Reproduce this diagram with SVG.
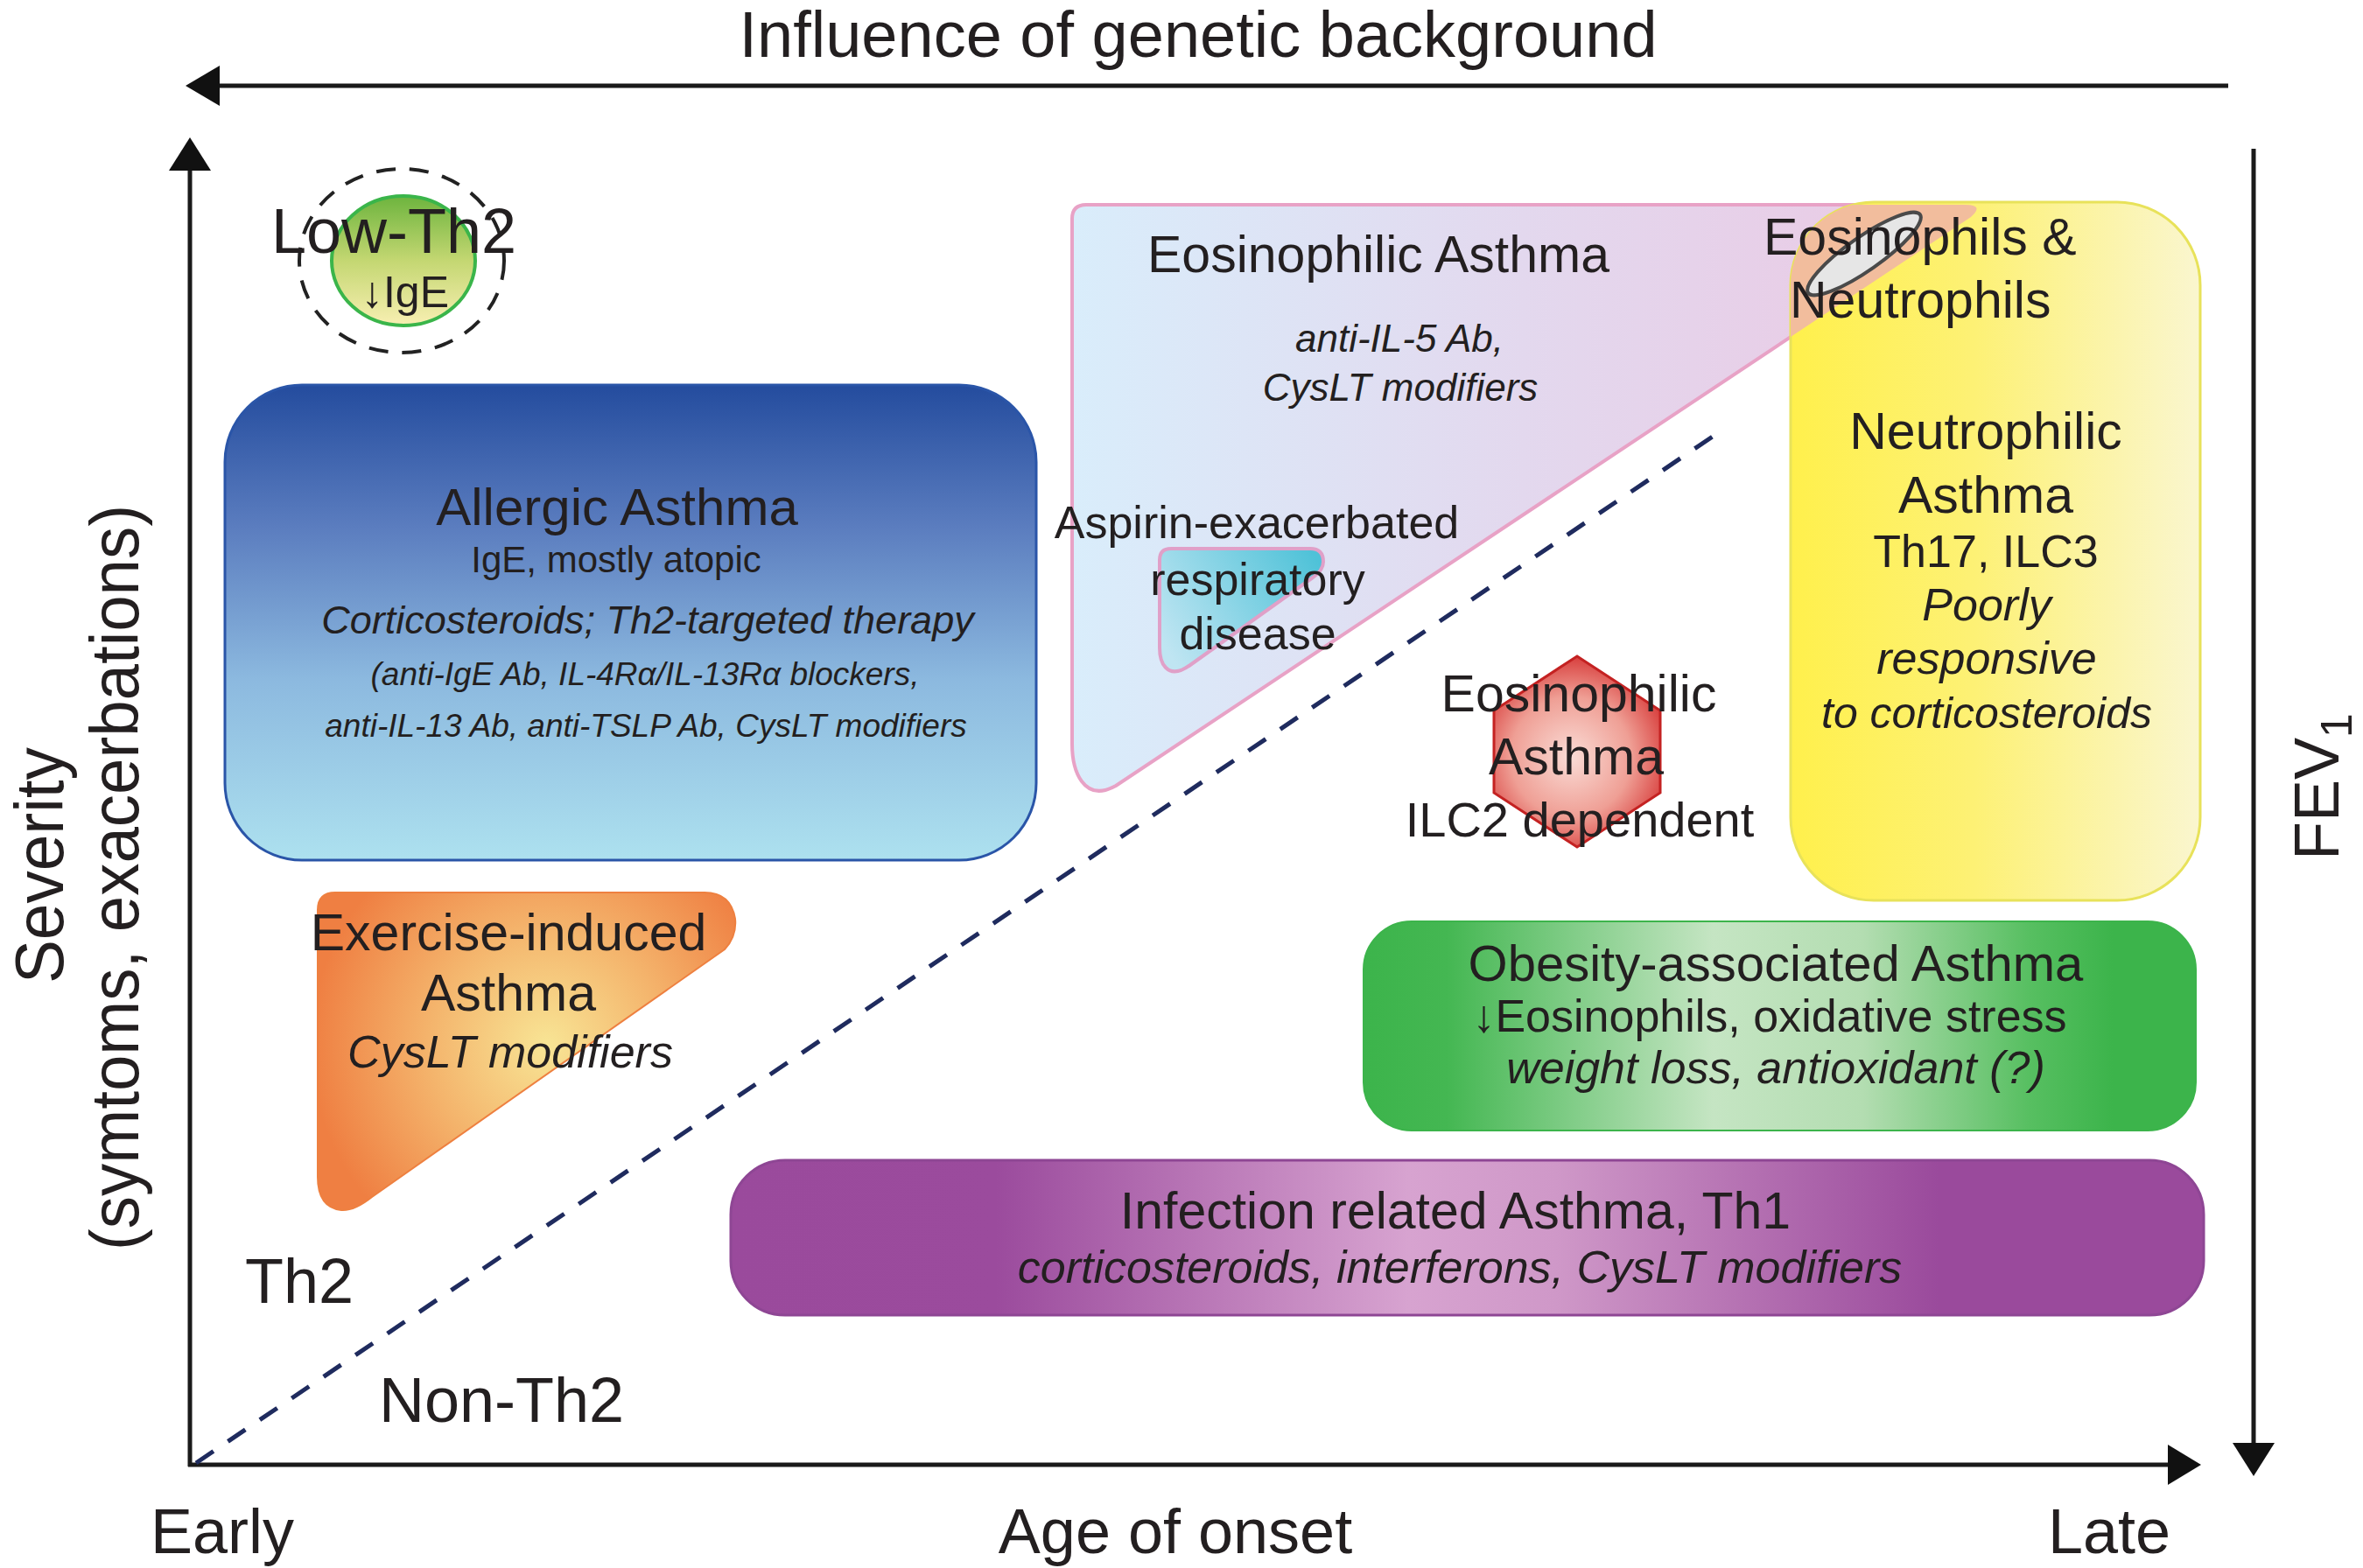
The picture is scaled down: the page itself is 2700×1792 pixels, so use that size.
<svg xmlns="http://www.w3.org/2000/svg" width="2700" height="1792" viewBox="0 0 2700 1792">
<style>
.t{font-family:"Liberation Sans",Arial,Helvetica,sans-serif;fill:#231f20;}
.i{font-style:italic;}
.m{text-anchor:middle;}
.ax{stroke:#1a1a1a;stroke-width:5;fill:none;}
.ah{fill:#111;stroke:none;}
</style>
<defs>
<linearGradient id="gLow" x1="0" y1="0" x2="0" y2="1">
<stop offset="0" stop-color="#6db43e"/><stop offset="0.5" stop-color="#c4d772"/><stop offset="1" stop-color="#f8efb2"/>
</linearGradient>
<linearGradient id="gAll" x1="0" y1="0" x2="0" y2="1">
<stop offset="0" stop-color="#244c9e"/><stop offset="0.3" stop-color="#5b7dbf"/><stop offset="0.62" stop-color="#8cb9df"/><stop offset="1" stop-color="#ade1ef"/>
</linearGradient>
<linearGradient id="gPink" gradientUnits="userSpaceOnUse" x1="1225" y1="0" x2="2258" y2="0">
<stop offset="0" stop-color="#d9edfb"/><stop offset="0.5" stop-color="#e3d8ee"/><stop offset="1" stop-color="#ebc8e3"/>
</linearGradient>
<linearGradient id="gCyan" gradientUnits="userSpaceOnUse" x1="1505" y1="640" x2="1335" y2="745">
<stop offset="0" stop-color="#4fc2d8"/><stop offset="1" stop-color="#bfe5f2"/>
</linearGradient>
<linearGradient id="gYel" gradientUnits="userSpaceOnUse" x1="2046" y1="0" x2="2514" y2="0">
<stop offset="0" stop-color="#fff04c"/><stop offset="0.45" stop-color="#fdf175"/><stop offset="1" stop-color="#faf6cf"/>
</linearGradient>
<radialGradient id="gHex" gradientUnits="userSpaceOnUse" cx="1795" cy="865" r="125">
<stop offset="0" stop-color="#fadcd6"/><stop offset="0.55" stop-color="#ef9f95"/><stop offset="1" stop-color="#d32a2a"/>
</radialGradient>
<linearGradient id="gGreen" gradientUnits="userSpaceOnUse" x1="1558" y1="0" x2="2509" y2="0">
<stop offset="0" stop-color="#3cb44b"/><stop offset="0.1" stop-color="#44b752"/><stop offset="0.42" stop-color="#c5e5c3"/><stop offset="0.6" stop-color="#b3ddb1"/><stop offset="0.8" stop-color="#57bf61"/><stop offset="0.9" stop-color="#3cb44b"/><stop offset="1" stop-color="#3cb44b"/>
</linearGradient>
<linearGradient id="gPur" gradientUnits="userSpaceOnUse" x1="835" y1="0" x2="2518" y2="0">
<stop offset="0" stop-color="#9a4a9c"/><stop offset="0.18" stop-color="#9b4b9d"/><stop offset="0.46" stop-color="#d7a3d0"/><stop offset="0.56" stop-color="#cf98c8"/><stop offset="0.82" stop-color="#9a4a9c"/><stop offset="1" stop-color="#9a4a9c"/>
</linearGradient>
<radialGradient id="gEx" gradientUnits="userSpaceOnUse" cx="625" cy="1195" r="270">
<stop offset="0" stop-color="#f8e595"/><stop offset="0.5" stop-color="#f4b46c"/><stop offset="1" stop-color="#ef7f42"/>
</radialGradient>
<clipPath id="yc"><rect x="2046" y="231" width="468" height="798" rx="95"/></clipPath>
</defs>

<g id="connectors">
<line class="ax" x1="251" y1="98" x2="2546" y2="98"/>
<polygon class="ah" points="212,98 251,75 251,121"/>
<line class="ax" x1="217" y1="195" x2="217" y2="1676"/>
<polygon class="ah" points="217,157 193,195 241,195"/>
<line class="ax" x1="215" y1="1674" x2="2478" y2="1674"/>
<polygon class="ah" points="2515,1674 2477,1651 2477,1697"/>
<line class="ax" x1="2575" y1="170" x2="2575" y2="1650"/>
<polygon class="ah" points="2575,1687 2551,1649 2599,1649"/>
<line x1="224" y1="1672" x2="1970" y2="490" stroke="#1f2b5e" stroke-width="5" stroke-dasharray="24 20"/>
</g>

<g id="low-th2">
<ellipse cx="459" cy="298" rx="117" ry="105" fill="none" stroke="#222" stroke-width="4" stroke-dasharray="22 16"/>
<ellipse cx="461" cy="298" rx="82" ry="74" fill="url(#gLow)" stroke="#3ab54a" stroke-width="4"/>
<text class="t m" x="450" y="289" font-size="72">Low-Th2</text>
<text class="t m" x="463" y="351" font-size="50">↓IgE</text>
</g>

<g id="allergic">
<rect x="257" y="440" width="927" height="543" rx="88" fill="url(#gAll)" stroke="#2a55a8" stroke-width="3"/>
<text class="t m" x="705" y="600" font-size="60">Allergic Asthma</text>
<text class="t m" x="704" y="654" font-size="42">IgE, mostly atopic</text>
<text class="t m i" x="740" y="724" font-size="45">Corticosteroids; Th2-targeted therapy</text>
<text class="t m i" x="737" y="783" font-size="37">(anti-IgE Ab, IL-4Rα/IL-13Rα blockers,</text>
<text class="t m i" x="738" y="842" font-size="37">anti-IL-13 Ab, anti-TSLP Ab, CysLT modifiers</text>
</g>

<g id="eosinophilic">
<path d="M1225,250 Q1225,234 1241,234 L2245,234 Q2268,234 2252,248 L1275,898 Q1250,912 1236,893 Q1225,878 1225,850 Z" fill="url(#gPink)" stroke="#e8a2c6" stroke-width="4"/>
<text class="t m" x="1575" y="311" font-size="59">Eosinophilic Asthma</text>
<text class="t m i" x="1599" y="402" font-size="44">anti-IL-5 Ab,</text>
<text class="t m i" x="1600" y="458" font-size="44">CysLT modifiers</text>
</g>

<g id="aspirin">
<path d="M1325,640 Q1325,627 1338,627 L1497,627 Q1512,627 1512,642 Q1512,652 1500,660 L1360,760 Q1342,773 1332,763 Q1325,756 1325,740 Z" fill="url(#gCyan)" stroke="#e0a0c8" stroke-width="4"/>
<text class="t m" x="1436" y="615" font-size="52">Aspirin-exacerbated</text>
<text class="t m" x="1437" y="680" font-size="52">respiratory</text>
<text class="t m" x="1437" y="742" font-size="52">disease</text>
</g>

<g id="neutrophilic">
<rect x="2046" y="231" width="468" height="798" rx="95" fill="url(#gYel)" stroke="#e8e25a" stroke-width="3"/>
<path clip-path="url(#yc)" d="M1225,250 Q1225,234 1241,234 L2245,234 Q2268,234 2252,248 L1275,898 Q1250,912 1236,893 Q1225,878 1225,850 Z" fill="#f2bd9d"/>
<ellipse cx="2130" cy="290" rx="78" ry="19" transform="rotate(-35 2130 290)" fill="#e6e6e6" stroke="#4a4a4a" stroke-width="4"/>
<text class="t" x="2015" y="291" font-size="59">Eosinophils &amp;</text>
<text class="t" x="2045" y="363" font-size="59">Neutrophils</text>
<text class="t m" x="2269" y="513" font-size="59">Neutrophilic</text>
<text class="t m" x="2269" y="586" font-size="59">Asthma</text>
<text class="t m" x="2269" y="648" font-size="52">Th17, ILC3</text>
<text class="t m i" x="2270" y="709" font-size="52">Poorly</text>
<text class="t m i" x="2270" y="770" font-size="52">responsive</text>
<text class="t m i" x="2270" y="832" font-size="50">to corticosteroids</text>
</g>

<g id="ilc2">
<polygon points="1802,750 1897,812 1897,906 1802,968 1707,906 1707,812" fill="url(#gHex)" stroke="#c42222" stroke-width="3"/>
<text class="t m" x="1804" y="813" font-size="59">Eosinophilic</text>
<text class="t m" x="1801" y="885" font-size="59">Asthma</text>
<text class="t m" x="1805" y="956" font-size="56">ILC2 dependent</text>
</g>

<g id="obesity">
<rect x="1558" y="1053" width="951" height="239" rx="55" fill="url(#gGreen)" stroke="#3cb44b" stroke-width="2"/>
<text class="t m" x="2029" y="1121" font-size="58">Obesity-associated Asthma</text>
<text class="t m" x="2022" y="1179" font-size="52">↓Eosinophils, oxidative stress</text>
<text class="t m i" x="2029" y="1238" font-size="52">weight loss, antioxidant (?)</text>
</g>

<g id="infection">
<rect x="835" y="1326" width="1683" height="177" rx="62" fill="url(#gPur)" stroke="#8e4694" stroke-width="3"/>
<text class="t m" x="1663" y="1404" font-size="59">Infection related Asthma, Th1</text>
<text class="t m i" x="1668" y="1466" font-size="52">corticosteroids, interferons, CysLT modifiers</text>
</g>

<g id="exercise">
<path d="M363,1040 Q363,1020 383,1020 L805,1020 Q835,1020 840,1050 Q842,1070 828,1085 L425,1368 Q405,1384 390,1383 Q363,1380 363,1345 Z" fill="url(#gEx)" stroke="#ee8040" stroke-width="2"/>
<text class="t m" x="581" y="1086" font-size="59">Exercise-induced</text>
<text class="t m" x="581" y="1155" font-size="59">Asthma</text>
<text class="t m i" x="583" y="1220" font-size="52">CysLT modifiers</text>
</g>

<g id="labels">
<text class="t m" x="1369" y="65" font-size="74">Influence of genetic background</text>
<text class="t m" transform="translate(72,989) rotate(-90)" font-size="78" textLength="270" lengthAdjust="spacingAndGlyphs">Severity</text>
<text class="t m" transform="translate(158,1003) rotate(-90)" font-size="78" textLength="852" lengthAdjust="spacingAndGlyphs">(symtoms, exacerbations)</text>
<text class="t" transform="translate(2672,983) rotate(-90)" font-size="72">FEV<tspan font-size="50" dy="15">1</tspan></text>
<text class="t" x="280" y="1489" font-size="72">Th2</text>
<text class="t" x="433" y="1625" font-size="72">Non-Th2</text>
<text class="t" x="172" y="1775" font-size="72">Early</text>
<text class="t m" x="1343" y="1775" font-size="72">Age of onset</text>
<text class="t" x="2340" y="1775" font-size="72">Late</text>
</g>
</svg>
